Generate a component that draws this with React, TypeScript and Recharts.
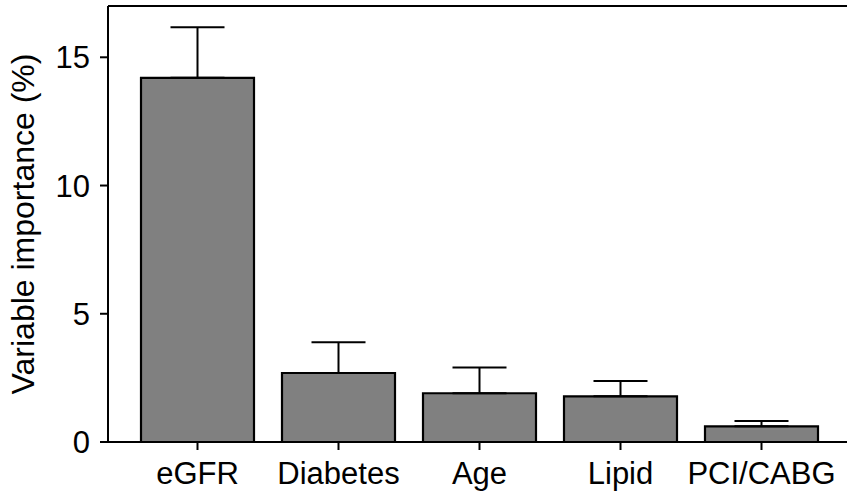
import React from 'react';
import {
  BarChart,
  Bar,
  ErrorBar,
  XAxis,
  YAxis,
  ReferenceLine,
} from 'recharts';

const categories = ['eGFR', 'Diabetes', 'Age', 'Lipid', 'PCI/CABG'];
const importance = [14.2, 2.69, 1.9, 1.78, 0.61];
const upperError = [1.97, 1.2, 1.0, 0.6, 0.21];
const yTicks = [0, 5, 10, 15];

const data = categories.map((name, i) => ({
  name,
  value: importance[i],
  err: [0, upperError[i]],
}));

const FONT = '"Liberation Sans", Arial, Helvetica, sans-serif';

const YLabel = () => (
  <text
    x={23}
    y={224}
    transform="rotate(-90 23 224)"
    textAnchor="middle"
    dominantBaseline="central"
    fontSize={32}
    fontFamily={FONT}
    fill="#000"
  >
    Variable importance (%)
  </text>
);

export default function App() {
  return (
    <div style={{ position: 'absolute', left: 0, top: 0, background: '#fff' }}>
      <BarChart
        width={847}
        height={494}
        data={data}
        margin={{ top: 6, right: 0, bottom: 0, left: 0 }}
      >
        <XAxis
          dataKey="name"
          height={52}
          padding={{ left: 19, right: 15 }}
          axisLine={{ stroke: '#000', strokeWidth: 2 }}
          tickLine={{ stroke: '#000', strokeWidth: 2 }}
          tickSize={8}
          tickMargin={12}
          interval={0}
          tick={{ fontSize: 31, fill: '#000', fontFamily: FONT }}
        />
        <YAxis
          width={108}
          domain={[0, 17]}
          ticks={yTicks}
          allowDataOverflow
          axisLine={{ stroke: '#000', strokeWidth: 2 }}
          tickLine={{ stroke: '#000', strokeWidth: 2 }}
          tickSize={8}
          tickMargin={10}
          tick={{ fontSize: 31, fill: '#000', fontFamily: FONT }}
          label={<YLabel />}
        />
        <ReferenceLine y={17} stroke="#000" strokeWidth={2} />
        <Bar
          dataKey="value"
          fill="#808080"
          stroke="#000"
          strokeWidth={2.2}
          barSize={113}
          isAnimationActive={false}
        >
          <ErrorBar
            dataKey="err"
            width={27}
            stroke="#000"
            strokeWidth={2}
            isAnimationActive={false}
          />
        </Bar>
      </BarChart>
    </div>
  );
}
